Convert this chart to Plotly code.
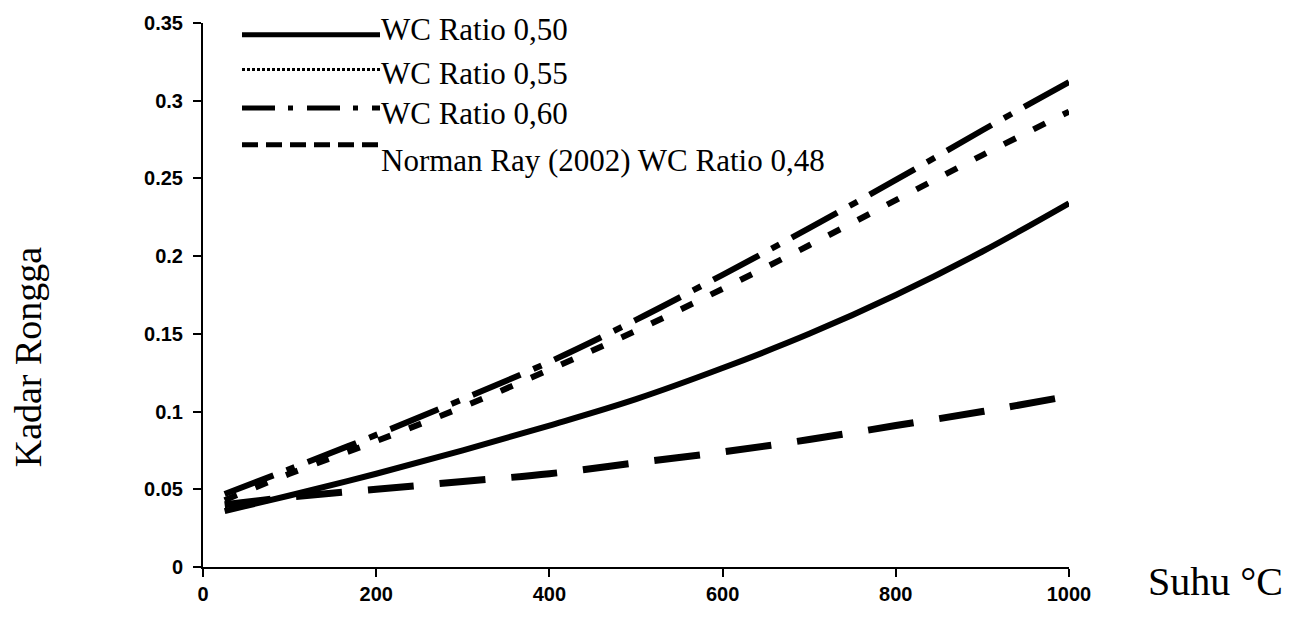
import plotly.graph_objects as go

# ---- data ----
suhu = [25, 100, 200, 300, 400, 500, 600, 700, 800, 900, 1000]
wc_050 = [0.036, 0.046, 0.060, 0.075, 0.091, 0.108, 0.128, 0.150, 0.175, 0.203, 0.234]
wc_055 = [0.043, 0.060, 0.081, 0.103, 0.127, 0.152, 0.179, 0.207, 0.236, 0.265, 0.293]
wc_060 = [0.047, 0.063, 0.085, 0.108, 0.132, 0.159, 0.188, 0.218, 0.249, 0.281, 0.312]
norman_048 = [0.040, 0.045, 0.050, 0.055, 0.060, 0.067, 0.074, 0.082, 0.091, 0.100, 0.110]

series_names = ["WC Ratio 0,50", "WC Ratio 0,55", "WC Ratio 0,60",
                "Norman Ray (2002) WC Ratio 0,48"]
x_ticks = [0, 200, 400, 600, 800, 1000]
y_ticks = [0, 0.05, 0.1, 0.15, 0.2, 0.25, 0.3, 0.35]
y_tick_labels = ["0", "0.05", "0.1", "0.15", "0.2", "0.25", "0.3", "0.35"]

# ---- layout geometry ----
W, H = 1294, 617
L, R, T, B = 203, 225, 20, 47
PW, PH = W - L - R, H - T - B


def px_x(p):
    return (p - L) / PW


def px_y(p):
    return (H - B - p) / PH


SERIF = "Liberation Serif, Times New Roman, serif"
SANS = "Liberation Sans, Arial, sans-serif"

fig = go.Figure()

styles = [
    dict(width=6, dash="solid"),
    dict(width=6, dash="13px,20px"),
    dict(width=6, dash="52px,14px,9px,14px"),
    dict(width=7, dash="46px,26px"),
]
for ys, st, nm in zip([wc_050, wc_055, wc_060, norman_048], styles, series_names):
    fig.add_trace(go.Scatter(
        x=suhu, y=ys, mode="lines", name=nm, showlegend=False,
        line=dict(color="black", width=st["width"], dash=st["dash"], shape="spline", smoothing=1.0),
    ))

# ---- manual legend (long sample lines like the original) ----
legend_line_y = [32, 67, 106, 143]
legend_text_y = [27, 71, 111, 159]
legend_styles = [
    dict(width=5, dash="solid"),
    dict(width=3, dash="3px,2px"),
    dict(width=5, dash="33px,13px,5px,14px"),
    dict(width=5, dash="16px,8px"),
]
shapes = []
annotations = []
for nm, ly, ty, st in zip(series_names, legend_line_y, legend_text_y, legend_styles):
    shapes.append(dict(
        type="line", xref="paper", yref="paper",
        x0=px_x(242), x1=px_x(380), y0=px_y(ly), y1=px_y(ly),
        line=dict(color="black", width=st["width"], dash=st["dash"]),
    ))
    annotations.append(dict(
        text=nm, xref="paper", yref="paper", x=px_x(379), y=px_y(ty),
        xanchor="left", yanchor="middle", showarrow=False,
        font=dict(family=SERIF, size=31, color="black"),
    ))

annotations.append(dict(
    text="Suhu °C", xref="paper", yref="paper", x=px_x(1146), y=px_y(585),
    xanchor="left", yanchor="middle", showarrow=False,
    font=dict(family=SERIF, size=40, color="black"),
))
annotations.append(dict(
    text="Kadar Rongga", xref="paper", yref="paper", x=px_x(28), y=px_y(358),
    xanchor="center", yanchor="middle", showarrow=False, textangle=-90,
    font=dict(family=SERIF, size=38, color="black"),
))

fig.update_layout(
    width=W, height=H,
    margin=dict(l=L, r=R, t=T, b=B, pad=0),
    paper_bgcolor="white", plot_bgcolor="white",
    shapes=shapes, annotations=annotations,
    xaxis=dict(
        range=[0, 1000], tickvals=x_ticks, ticks="outside", ticklen=8, tickwidth=2,
        tickcolor="black", showline=True, linecolor="black", linewidth=2,
        showgrid=False, zeroline=False,
        tickfont=dict(family=SANS, size=20, color="black", weight="bold"),
    ),
    yaxis=dict(
        range=[0, 0.35], tickvals=y_ticks, ticktext=y_tick_labels, ticks="outside",
        ticklen=8, tickwidth=2, tickcolor="black", showline=True, linecolor="black",
        linewidth=2, showgrid=False, zeroline=False, ticklabelstandoff=6,
        tickfont=dict(family=SANS, size=20, color="black", weight="bold"),
    ),
)

fig.write_html("out.html")
